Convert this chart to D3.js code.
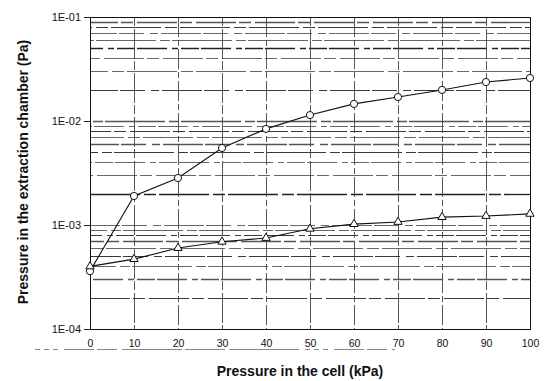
<!DOCTYPE html>
<html>
<head>
<meta charset="utf-8">
<script src="https://cdn.jsdelivr.net/npm/d3@7"></script>
<style>
  body { margin: 0; background: #fff; }
  text { font-family: Arial, "Liberation Sans", sans-serif; fill: #111; }
</style>
</head>
<body>
<div id="chart"></div>
<script>
// data
const cellPressure = [0, 10, 20, 30, 40, 50, 60, 70, 80, 90, 100];
const circleSeries = [3.6e-4, 1.9e-3, 2.83e-3, 5.5e-3, 8.4e-3, 1.14e-2, 1.46e-2, 1.70e-2, 1.99e-2, 2.37e-2, 2.59e-2];
const triangleSeries = [4.0e-4, 4.7e-4, 6.0e-4, 6.9e-4, 7.5e-4, 9.2e-4, 1.02e-3, 1.07e-3, 1.19e-3, 1.22e-3, 1.28e-3];
const yTickValues = [1e-1, 1e-2, 1e-3, 1e-4];
const yTickLabels = ["1E-01", "1E-02", "1E-03", "1E-04"];

const W = 550, H = 381;
const margin = { top: 17, right: 20, bottom: 52, left: 90 };
const width = W - margin.left - margin.right;
const height = H - margin.top - margin.bottom;

const svg = d3.select("#chart")
  .append("svg")
  .attr("width", W)
  .attr("height", H);

const g = svg.append("g")
  .attr("transform", "translate(" + margin.left + "," + margin.top + ")");

const x = d3.scaleLinear().domain([0, 100]).range([0, width]);
const y = d3.scaleLog().domain([1e-4, 1e-1]).range([height, 0]);

// minor gridlines (2..9 in each decade) - broken look like the scan
const minorVals = [];
[1e-4, 1e-3, 1e-2].forEach(d => {
  for (let k = 1; k <= 9; k++) minorVals.push(d * k);
});
const dashes = ["40,3,12,4", "18,2,30,5,6,3", "60,4,10,2", "25,6,8,3,40,2", "12,3,50,4"];
g.append("g")
  .selectAll("line")
  .data(minorVals.filter(v => v > 1e-4))
  .enter()
  .append("line")
  .attr("x1", 0)
  .attr("x2", width)
  .attr("y1", d => Math.round(y(d)) + 0.5)
  .attr("y2", d => Math.round(y(d)) + 0.5)
  .attr("stroke", (d, i) => i % 3 === 0 ? "#222" : "#555")
  .attr("stroke-width", (d, i) => i % 4 === 1 ? 1.3 : 0.9)
  .attr("stroke-dasharray", (d, i) => dashes[i % dashes.length])
  .attr("stroke-dashoffset", (d, i) => i * 17);

// vertical gridlines
g.append("g")
  .selectAll("line")
  .data(cellPressure.slice(1, -1))
  .enter()
  .append("line")
  .attr("x1", d => Math.round(x(d)) + 0.5)
  .attr("x2", d => Math.round(x(d)) + 0.5)
  .attr("y1", 0)
  .attr("y2", height)
  .attr("stroke", "#444")
  .attr("stroke-width", 0.9)
  .attr("stroke-dasharray", (d, i) => i % 2 ? "20,3,6,3" : "9,3,30,2");

// frame
g.append("rect")
  .attr("x", 0.5).attr("y", 0.5)
  .attr("width", width).attr("height", height)
  .attr("fill", "none")
  .attr("stroke", "#111")
  .attr("stroke-width", 1);

// y axis
const yAxis = g.append("g")
  .call(d3.axisLeft(y).tickValues(yTickValues).tickFormat((d, i) => yTickLabels[i]).tickSize(6).tickPadding(3));
yAxis.select(".domain").remove();
yAxis.selectAll("line").attr("stroke", "#222");
yAxis.selectAll("text").style("font-size", "11px").attr("fill", "#111");

// x axis
const xAxis = g.append("g")
  .attr("transform", "translate(0," + height + ")")
  .call(d3.axisBottom(x).tickValues(cellPressure).tickSize(0).tickPadding(11));
xAxis.select(".domain").remove();
xAxis.selectAll("text").style("font-size", "10.5px").attr("fill", "#111");

// scan streak along the x labels
svg.append("line")
  .attr("x1", 35).attr("x2", 395)
  .attr("y1", 349.5).attr("y2", 349.5)
  .attr("stroke", "#888")
  .attr("stroke-width", 1)
  .attr("stroke-dasharray", "5,4,5,4,5,6,30,3,20,5,60,3,40,4,70,6");

// series lines
const line = d3.line()
  .x((d, i) => x(cellPressure[i]))
  .y(d => y(d));

g.append("path")
  .datum(circleSeries)
  .attr("fill", "none")
  .attr("stroke", "#111")
  .attr("stroke-width", 1.1)
  .attr("d", line);

g.append("path")
  .datum(triangleSeries)
  .attr("fill", "none")
  .attr("stroke", "#111")
  .attr("stroke-width", 1.1)
  .attr("d", line);

// markers
g.selectAll(".circ")
  .data(circleSeries)
  .enter()
  .append("circle")
  .attr("cx", (d, i) => x(cellPressure[i]))
  .attr("cy", d => y(d))
  .attr("r", 3.6)
  .attr("fill", "#fff")
  .attr("stroke", "#111")
  .attr("stroke-width", 1);

const tri = d3.symbol().type(d3.symbolTriangle).size(30);
g.selectAll(".tri")
  .data(triangleSeries)
  .enter()
  .append("path")
  .attr("d", tri)
  .attr("transform", (d, i) => "translate(" + x(cellPressure[i]) + "," + y(d) + ")")
  .attr("fill", "#fff")
  .attr("stroke", "#111")
  .attr("stroke-width", 1);

// axis titles
svg.append("text")
  .attr("x", 300)
  .attr("y", 376)
  .attr("text-anchor", "middle")
  .style("font-size", "14px")
  .style("font-weight", "bold")
  .text("Pressure in the cell (kPa)");

svg.append("text")
  .attr("transform", "translate(28,172) rotate(-90)")
  .attr("text-anchor", "middle")
  .style("font-size", "14px")
  .style("font-weight", "bold")
  .text("Pressure in the extraction chamber (Pa)");
</script>
</body>
</html>
